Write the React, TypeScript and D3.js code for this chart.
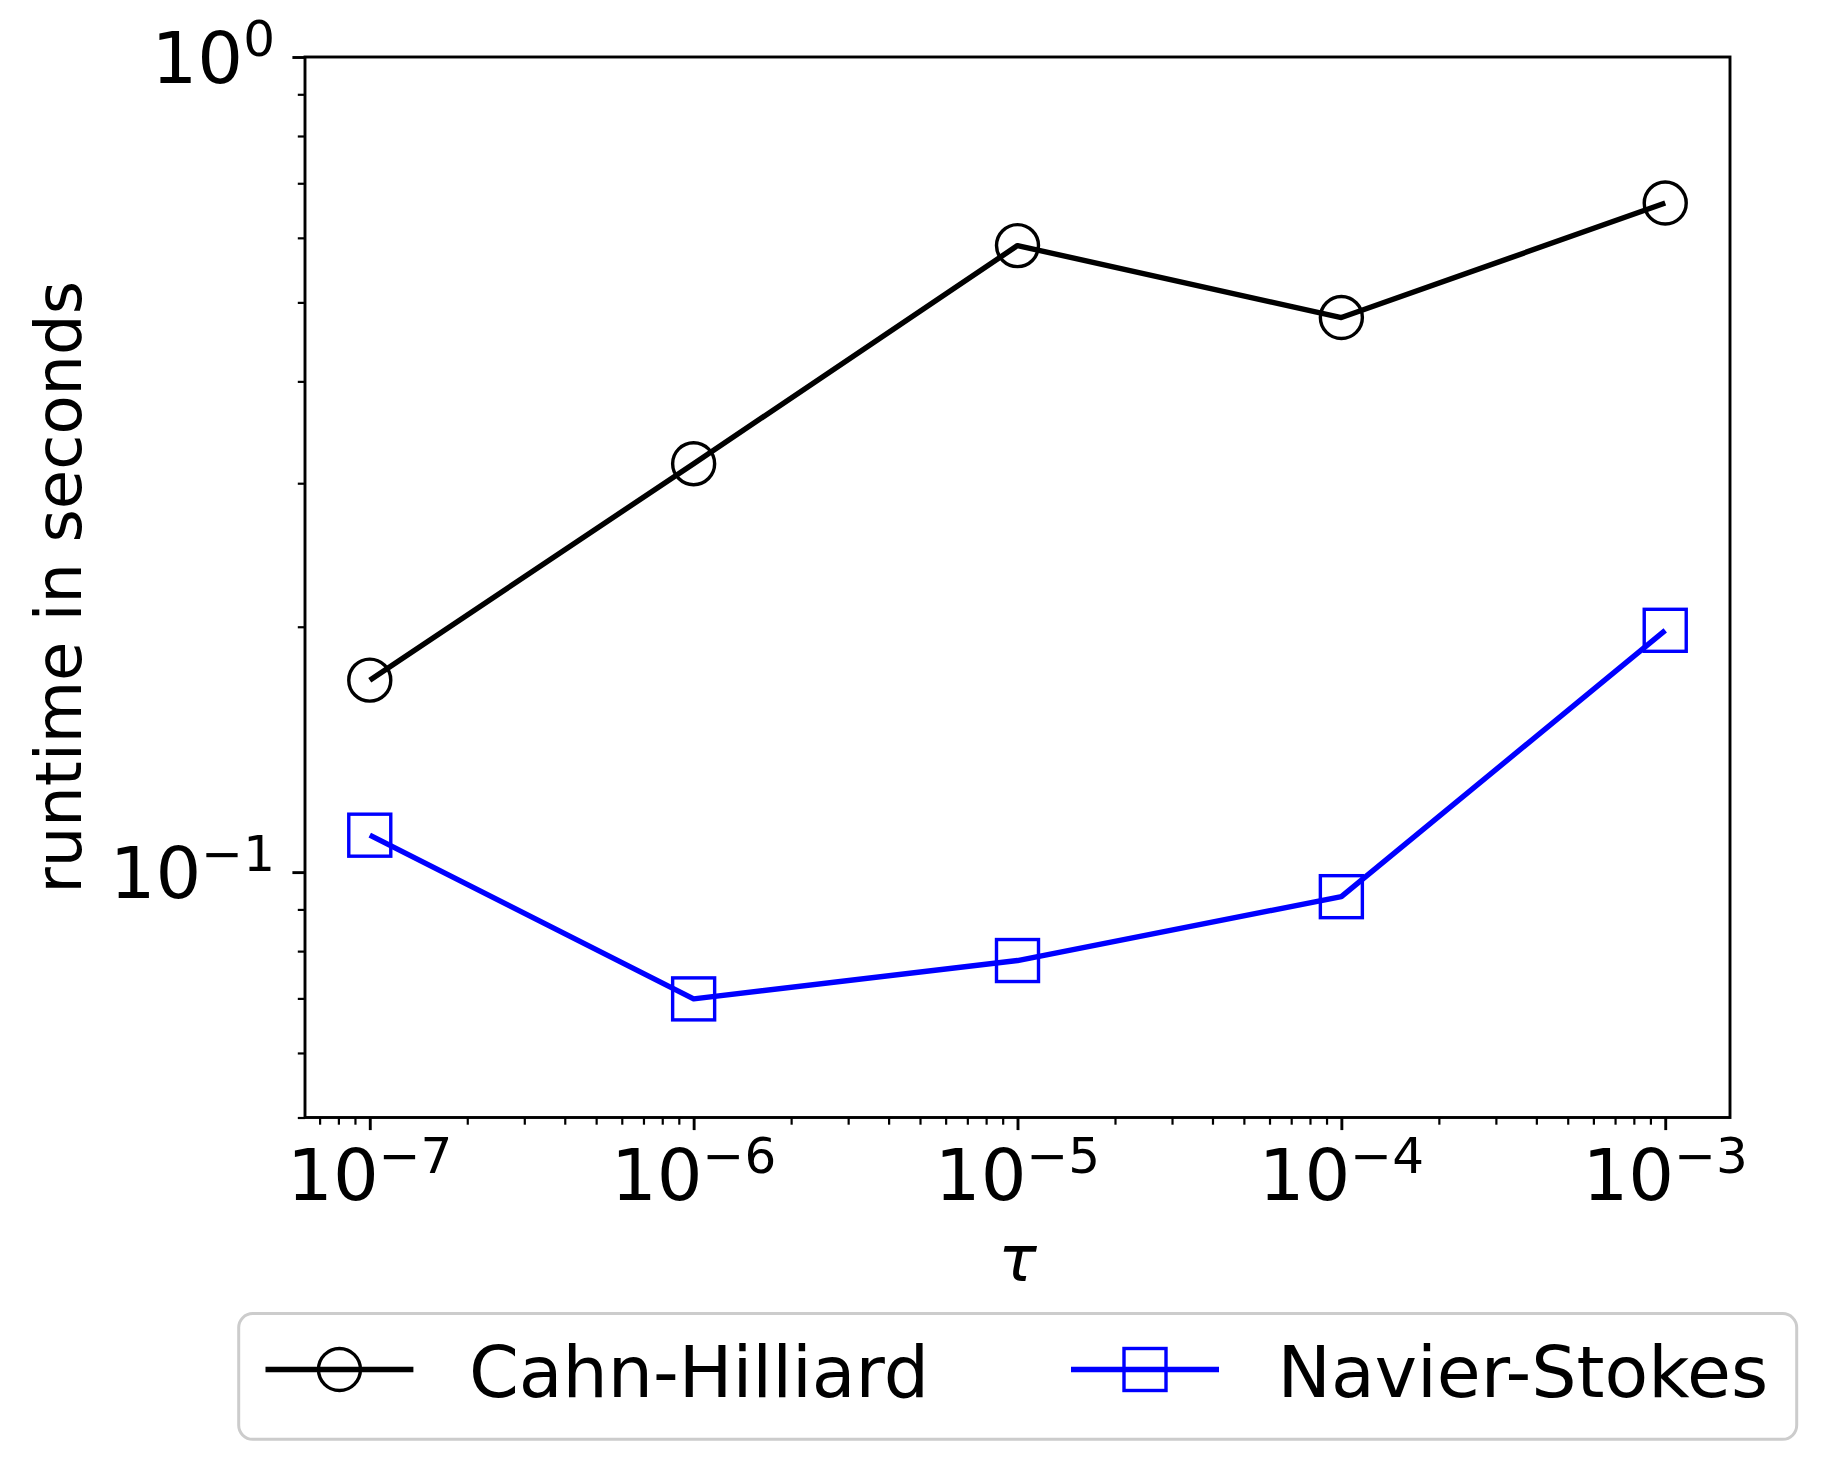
import { axisBottom, axisLeft, line, scaleLog, select } from "d3"
import { useEffect, useRef } from "react"

const tau = [1e-7, 1e-6, 1e-5, 1e-4, 1e-3]
const cahnHilliard = [0.172, 0.317, 0.587, 0.479, 0.662]
const navierStokes = [0.111, 0.0699, 0.0779, 0.0933, 0.198]

const xMajor = [1e-7, 1e-6, 1e-5, 1e-4, 1e-3]
const xExponents = ["\u22127", "\u22126", "\u22125", "\u22124", "\u22123"]
const yMajor = [1, 0.1]
const yExponents = ["0", "\u22121"]

const seriesNames = ["Cahn-Hilliard", "Navier-Stokes"]
const seriesColors = ["#000000", "#0000ff"]
const seriesMarkers = ["circle", "square"]

const W = 1826
const H = 1469
const left = 305
const right = 1730
const top = 57
const bottom = 1117.5
const font = "DejaVu Sans"

const x = scaleLog().domain([Math.pow(10, -7.2), Math.pow(10, -2.8)]).range([left, right])
const y = scaleLog().domain([0.05, 1]).range([bottom, top])

// minor ticks: 2..9 per decade inside the domain
const minorTicks = (scale, d0, d1) => {
    const [lo, hi] = scale.domain()
    const out = []
    for (let d = d0; d <= d1; d++) {
        for (let s = 2; s <= 9; s++) {
            const v = s * Math.pow(10, d)
            if (v >= lo * 0.9999 && v <= hi * 1.0001) out.push(v)
        }
    }
    return out
}
const xMinor = minorTicks(x, -8, -3)
const yMinor = minorTicks(y, -2, -1)

const series = seriesNames.map((name, i) => ({
    name,
    color: seriesColors[i],
    marker: seriesMarkers[i],
    points: tau.map((t, j) => ({ t, v: i === 0 ? cahnHilliard[j] : navierStokes[j] })),
}))

const markerSize = 42
const Marker = ({ kind, cx, cy, color }) =>
    kind === "circle" ? (
        <circle cx={cx} cy={cy} r={markerSize / 2} fill="none" stroke={color} strokeWidth={3.4} />
    ) : (
        <rect x={cx - markerSize / 2} y={cy - markerSize / 2} width={markerSize} height={markerSize}
            fill="none" stroke={color} strokeWidth={3.4} />
    )

const App = () => {
    const ref = useRef(null)

    useEffect(() => {
        const g = select(ref.current)
        const style = (sel, w) => {
            sel.select(".domain").remove()
            sel.selectAll(".tick line").attr("stroke", "#000").attr("stroke-width", w)
            sel.selectAll(".tick text").remove()
        }
        g.select(".xminor").attr("transform", `translate(0,${bottom})`)
            .call(axisBottom(x).tickValues(xMinor).tickSize(7.2).tickFormat(() => ""))
            .call(s => style(s, 2.2))
        g.select(".xmajor").attr("transform", `translate(0,${bottom})`)
            .call(axisBottom(x).tickValues(xMajor).tickSize(12.6).tickFormat(() => ""))
            .call(s => style(s, 2.9))
        g.select(".yminor").attr("transform", `translate(${left},0)`)
            .call(axisLeft(y).tickValues(yMinor).tickSize(7.2).tickFormat(() => ""))
            .call(s => style(s, 2.2))
        g.select(".ymajor").attr("transform", `translate(${left},0)`)
            .call(axisLeft(y).tickValues(yMajor).tickSize(12.6).tickFormat(() => ""))
            .call(s => style(s, 2.9))
    }, [])

    const path = line().x(d => x(d.t)).y(d => y(d.v))

    const legendY = 1369.5
    const legendItems = [
        { x0: 265.5, x1: 413.4, tx: 469 },
        { x0: 1071, x1: 1219, tx: 1277.5 },
    ]

    return (
        <svg ref={ref} width={W} height={H} style={{ position: "absolute", left: 0, top: 0, background: "#fff" }}
            fontFamily={font}>
            <rect x={0} y={0} width={W} height={H} fill="#fff" />

            {series.map(s => (
                <g key={s.name}>
                    <path d={path(s.points)} fill="none" stroke={s.color} strokeWidth={5.4} strokeLinejoin="round" />
                    {s.points.map((p, i) => (
                        <Marker key={i} kind={s.marker} cx={x(p.t)} cy={y(p.v)} color={s.color} />
                    ))}
                </g>
            ))}

            <rect x={left} y={top} width={right - left} height={bottom - top} fill="none" stroke="#000" strokeWidth={2.9} />
            <g className="xminor" />
            <g className="xmajor" />
            <g className="yminor" />
            <g className="ymajor" />

            {xMajor.map((v, i) => (
                <text key={v} x={x(v)} y={1200} textAnchor="middle" fontSize={72} fill="#000">
                    10<tspan fontSize={50} dy={-27}>{xExponents[i]}</tspan>
                </text>
            ))}
            {yMajor.map((v, i) => (
                <text key={v} x={275} y={y(v) + 26} textAnchor="end" fontSize={72} fill="#000">
                    10<tspan fontSize={50} dy={-27}>{yExponents[i]}</tspan>
                </text>
            ))}

            <text transform={`translate(81,${(top + bottom) / 2}) rotate(-90)`} textAnchor="middle" fontSize={64} fill="#000">
                runtime in seconds
            </text>
            <text x={(left + right) / 2} y={1281} textAnchor="middle" fontSize={64} fontStyle="italic" fill="#000">
                τ
            </text>

            <rect x={238.7} y={1313.6} width={1558} height={125.7} rx={14} fill="#fff" stroke="#cccccc" strokeWidth={3} />
            {series.map((s, i) => {
                const it = legendItems[i]
                return (
                    <g key={s.name}>
                        <line x1={it.x0} x2={it.x1} y1={legendY} y2={legendY} stroke={s.color} strokeWidth={5.4} />
                        <Marker kind={s.marker} cx={(it.x0 + it.x1) / 2} cy={legendY} color={s.color} />
                        <text x={it.tx} y={legendY + 27} fontSize={71.4} fill="#000">{s.name}</text>
                    </g>
                )
            })}
        </svg>
    )
}

export default App
